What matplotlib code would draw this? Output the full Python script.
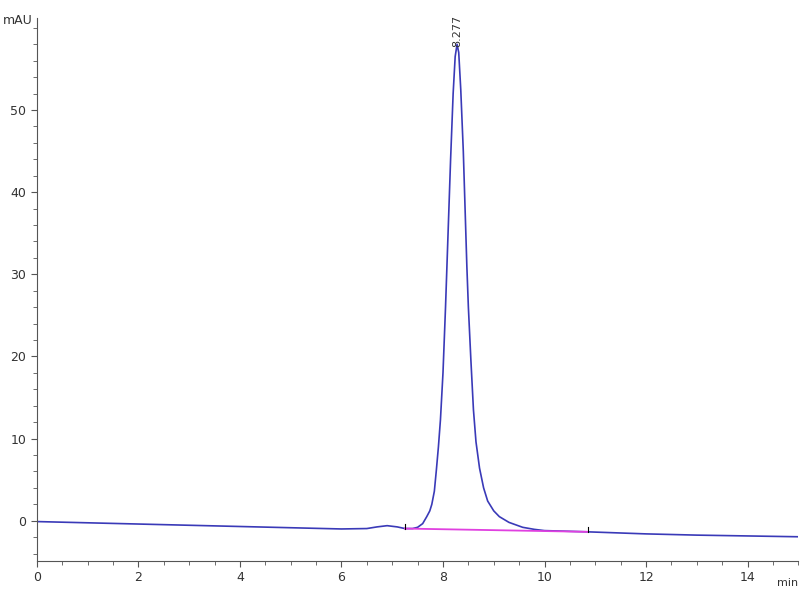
import matplotlib.pyplot as plt
from matplotlib.ticker import MultipleLocator

# chromatogram trace (min, mAU)
time_min = [0.0, 2.0, 4.0, 5.0, 6.0, 6.5, 6.7, 6.9, 7.1, 7.25, 7.4, 7.5, 7.6,
            7.68, 7.74, 7.78, 7.83, 7.87, 7.91, 7.95, 8.0, 8.05, 8.1, 8.15, 8.2,
            8.24, 8.277, 8.31, 8.35, 8.4, 8.44, 8.47, 8.5, 8.55, 8.6, 8.65, 8.72,
            8.8, 8.88, 9.0, 9.11, 9.3, 9.57, 9.8, 10.0, 10.85, 12.0, 13.0, 14.0, 15.0]
signal_mau = [-0.1, -0.4, -0.7, -0.85, -1.0, -0.95, -0.75, -0.6, -0.75, -0.95, -0.95,
              -0.8, -0.35, 0.5, 1.2, 2.0, 3.6, 6.2, 9.0, 12.3, 18, 26, 35, 44, 52,
              56.5, 58, 57, 52.5, 45, 37, 31, 26, 19.5, 13.5, 9.6, 6.4,
              4.0, 2.4, 1.2, 0.5, -0.2, -0.8, -1.05, -1.2, -1.35, -1.6, -1.75, -1.85, -1.95]

# integration baseline (start / end of the peak)
base_t = [7.25, 10.85]
base_y = [-0.95, -1.35]

peak_rt = 8.277
peak_h = 58

fig = plt.figure(figsize=(8, 6), dpi=100)
ax = fig.add_axes([0.046, 0.065, 0.952, 0.905])

ax.plot(time_min, signal_mau, color='#3a3ab8', lw=1.2)
ax.plot(base_t, base_y, color='#e040e0', lw=1.3)
for t, y in zip(base_t, base_y):
    ax.plot([t, t], [y, y + 0.6], color='black', lw=0.8)

ax.text(peak_rt, peak_h - 0.3, f'{peak_rt:.3f}', rotation=90, ha='center', va='bottom',
        fontsize=8, color='#333333')

ax.set_xlim(0, 15)
ax.set_ylim(-4.9, 61.2)
ax.xaxis.set_major_locator(MultipleLocator(2))
ax.xaxis.set_minor_locator(MultipleLocator(0.5))
ax.yaxis.set_major_locator(MultipleLocator(10))
ax.yaxis.set_minor_locator(MultipleLocator(2))
ax.set_yticks([0, 10, 20, 30, 40, 50])

for side in ['top', 'right']:
    ax.spines[side].set_visible(False)
ax.spines['left'].set_color('#555555')
ax.spines['bottom'].set_color('#555555')
ax.tick_params(which='both', colors='#555555', labelcolor='#333333', labelsize=9)
ax.tick_params(which='major', length=4)
ax.tick_params(which='minor', length=3)

fig.text(0.003, 1 - 20 / 600, 'mAU', ha='left', va='center', fontsize=9, color='#333333')
ax.text(15, -7.6, 'min', ha='right', va='center', fontsize=8, color='#333333')

fig.savefig('out.png', dpi=100)
